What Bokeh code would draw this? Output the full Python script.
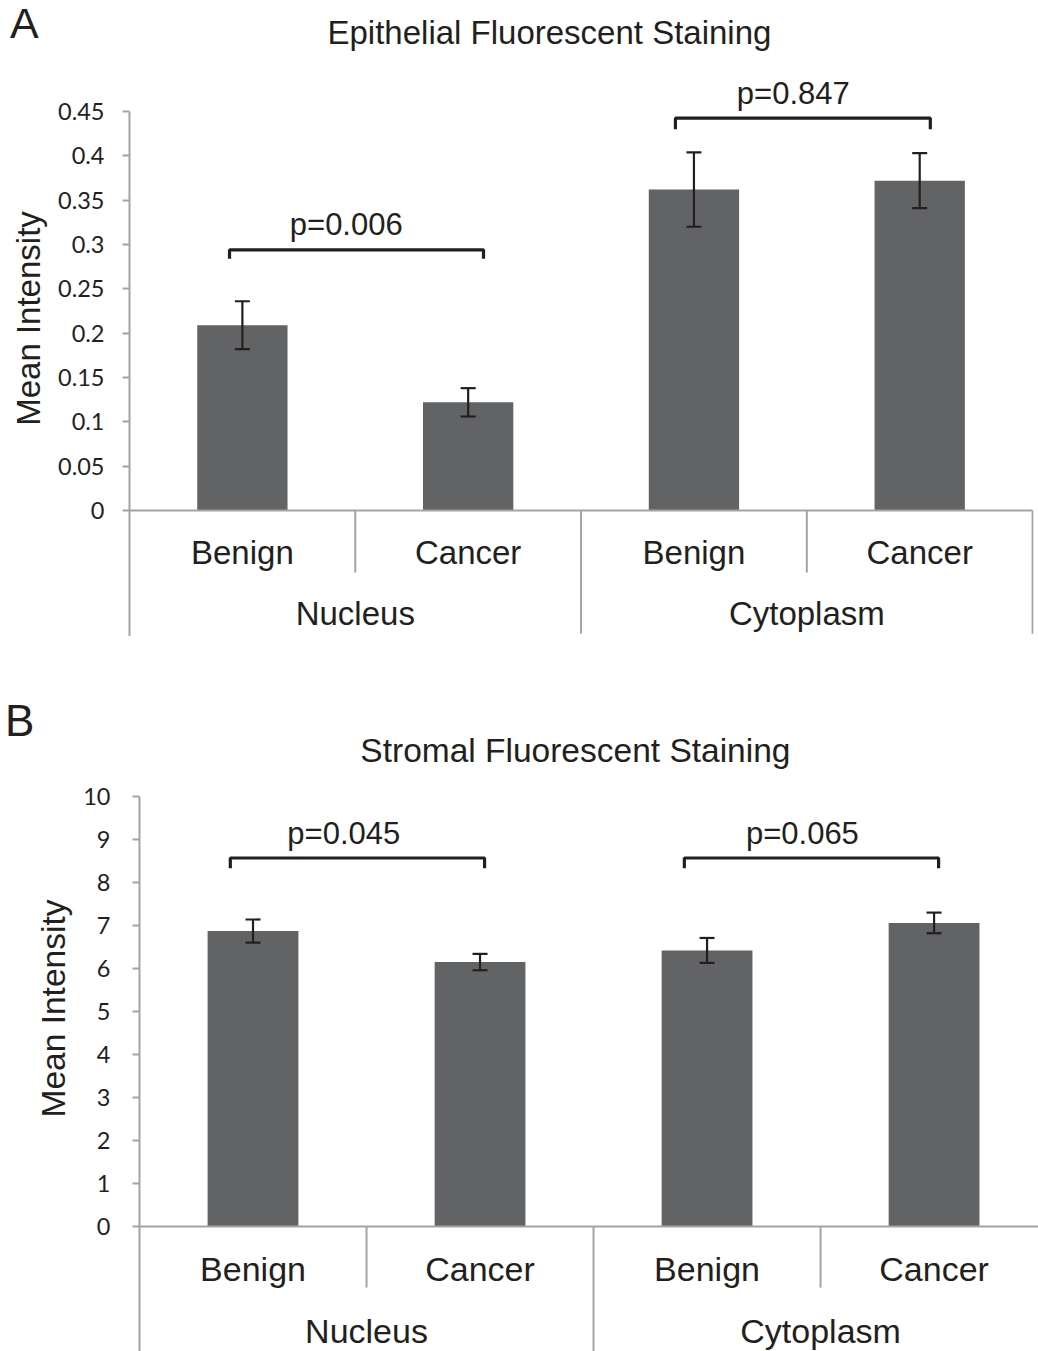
from bokeh.plotting import figure
from bokeh.models import ColumnDataSource, Whisker, TeeHead, FixedTicker, Range1d, Div, Spacer
from bokeh.core.properties import value
from bokeh.embed import file_html
from bokeh.resources import INLINE

# ---------------- data ----------------
groups = ["Nucleus", "Cytoplasm"]
conditions = ["Benign", "Cancer", "Benign", "Cancer"]

epi_title = "Epithelial Fluorescent Staining"
epi_mean = [0.209, 0.122, 0.362, 0.372]
epi_err = [0.027, 0.016, 0.042, 0.031]
epi_p = ["p=0.006", "p=0.847"]
epi_ticks = [0, 0.05, 0.1, 0.15, 0.2, 0.25, 0.3, 0.35, 0.4, 0.45]
epi_tick_labels = ["0", "0.05", "0.1", "0.15", "0.2", "0.25", "0.3", "0.35", "0.4", "0.45"]

str_title = "Stromal Fluorescent Staining"
str_mean = [6.87, 6.15, 6.42, 7.06]
str_err = [0.27, 0.19, 0.29, 0.24]
str_p = ["p=0.045", "p=0.065"]
str_ticks = [0, 1, 2, 3, 4, 5, 6, 7, 8, 9, 10]
str_tick_labels = ["0", "1", "2", "3", "4", "5", "6", "7", "8", "9", "10"]

panel_letters = ["A", "B"]

BAR = "#626365"
INK = "#231f20"
AX = "#a3a3a3"
SANS = value("Liberation Sans")


def make_panel(title, means, errs, pvals, ticks, tick_labels, cfg):
    p = figure(width=1038, height=cfg["height"], output_backend="svg", toolbar_location=None,
               x_range=Range1d(0, cfg["xend"]), y_range=Range1d(cfg["ybot"], cfg["ytop"]),
               min_border_left=cfg["left"], min_border_right=cfg["right"],
               min_border_top=0, min_border_bottom=0)
    p.outline_line_color = None
    p.grid.visible = False
    p.xaxis.visible = False
    p.background_fill_color = "white"
    p.border_fill_color = "white"

    ya = p.yaxis[0]
    ya.ticker = FixedTicker(ticks=ticks)
    ya.major_label_overrides = {t: l for t, l in zip(ticks, tick_labels)}
    ya.bounds = (cfg["ybot"], ticks[-1])
    ya.axis_line_color = AX
    ya.axis_line_width = 2
    ya.major_tick_line_color = AX
    ya.major_tick_line_width = 2
    ya.major_tick_out = 7
    ya.major_tick_in = 0
    ya.minor_tick_line_color = None
    ya.major_label_text_font = "Lato"
    ya.major_label_text_font_size = "23.5px"
    ya.major_label_text_color = INK
    ya.major_label_standoff = cfg["lstand"]
    ya.axis_label = "Mean Intensity"
    ya.axis_label_text_font = "Liberation Sans"
    ya.axis_label_text_font_style = "normal"
    ya.axis_label_text_font_size = cfg["axfs"]
    ya.axis_label_text_color = INK
    ya.axis_label_standoff = cfg["astand"]

    xs = [i + 0.5 for i in range(len(means))]
    src = ColumnDataSource(dict(x=xs, top=means,
                                upper=[m + e for m, e in zip(means, errs)],
                                lower=[m - e for m, e in zip(means, errs)]))
    p.vbar(x="x", top="top", width=0.4, source=src, fill_color=BAR, line_color=None)
    w = Whisker(base="x", upper="upper", lower="lower", source=src, level="overlay",
                line_color=INK, line_width=2.2,
                upper_head=TeeHead(size=15, line_color=INK, line_width=2.2),
                lower_head=TeeHead(size=15, line_color=INK, line_width=2.2))
    p.add_layout(w)

    # baseline and category table lines
    n = len(means)
    p.segment(x0=[0], y0=[0], x1=[n], y1=[0], line_color=AX, line_width=2)
    p.segment(x0=[1, 3], y0=[0, 0], x1=[1, 3], y1=[cfg["inner_bot"]] * 2, line_color=AX, line_width=2)
    p.segment(x0=[2, 4], y0=[0, 0], x1=[2, 4], y1=[cfg["group_bot"]] * 2, line_color=AX, line_width=2)

    p.text(x=xs, y=[cfg["cat_y"]] * n, text=conditions, text_font=SANS, text_font_size=cfg["catfs"],
           text_color=INK, text_align="center", text_baseline="middle")
    p.text(x=[1, 3], y=[cfg["grp_y"]] * 2, text=groups, text_font=SANS, text_font_size=cfg["catfs"],
           text_color=INK, text_align="center", text_baseline="middle")

    # significance brackets
    bxs, bys = [], []
    for (x0, x1), (ytop, yend) in zip(cfg["br_x"], cfg["br_y"]):
        bxs.append([x0, x0, x1, x1])
        bys.append([yend, ytop, ytop, yend])
    p.multi_line(xs=bxs, ys=bys, line_color=INK, line_width=3.2)
    p.text(x=cfg["p_x"], y=cfg["p_y"], text=pvals, text_font=SANS, text_font_size="31px",
           text_color=INK, text_align="center", text_baseline="middle")

    # title
    p.text(x=[cfg["title_x"]], y=[cfg["title_y"]], text=[title], text_font=SANS,
           text_font_size=cfg["titlefs"], text_color=INK, text_align="center", text_baseline="middle")
    return p


cfgA = dict(height=636, xend=4.004, ybot=-0.14210, ytop=0.57519, left=129, right=5,
            lstand=18, astand=8, axfs="33px", catfs="33px", titlefs="33px",
            inner_bot=-0.070, group_bot=-0.139, cat_y=-0.0474, grp_y=-0.116,
            br_x=[(0.443, 1.568), (2.418, 3.547)], br_y=[(0.294, 0.284), (0.4425, 0.430)],
            p_x=[0.96, 2.94], p_y=[0.3225, 0.470], title_x=1.86, title_y=0.539)

cfgB = dict(height=686, xend=3.960, ybot=-2.907, ytop=13.0465, left=139, right=0,
            lstand=22, astand=8, axfs="33.5px", catfs="34px", titlefs="33.5px",
            inner_bot=-1.42, group_bot=-3.0, cat_y=-0.977, grp_y=-2.44,
            br_x=[(0.40, 1.52), (2.40, 3.52)], br_y=[(8.57, 8.33), (8.57, 8.33)],
            p_x=[0.90, 2.92], p_y=[9.14, 9.14], title_x=1.92, title_y=11.07)

pA = make_panel(epi_title, epi_mean, epi_err, epi_p, epi_ticks, epi_tick_labels, cfgA)
pB = make_panel(str_title, str_mean, str_err, str_p, str_ticks, str_tick_labels, cfgB)
gap = Spacer(width=10, height=29)


def letter_div(txt, left, top, size):
    return Div(text=txt, styles={"position": "absolute", "left": f"{left}px", "top": f"{top}px",
                                 "font-family": "Liberation Sans", "font-size": f"{size}px",
                                 "line-height": "1", "color": INK, "margin": "0", "padding": "0"})


divA = letter_div(panel_letters[0], 10, 2, 43)
divB = letter_div(panel_letters[1], 5, 699, 44)

open("out.html", "w").write(file_html([pA, gap, pB, divA, divB], INLINE))
